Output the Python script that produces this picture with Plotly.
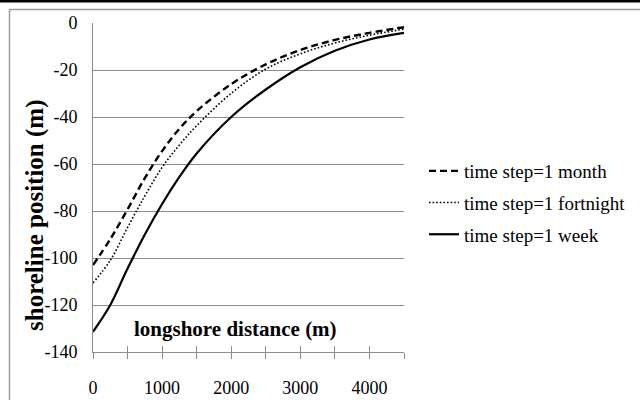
import plotly.graph_objects as go

# ---- data ----
DIST = [0, 250, 500, 750, 1000, 1250, 1500, 2000, 2500, 3000, 3500, 4000, 4500]
MONTH = [-103, -92, -79.3, -66, -54.5, -45, -37.5, -26, -17.6, -11.5, -7.2, -4.2, -1.8]
FORTNIGHT = [-110.6, -101, -87, -73.6, -61.4, -51.9, -43.7, -29.9, -19.6, -13.1, -8.5, -5.2, -2.6]
WEEK = [-131.4, -120, -104.5, -90, -77, -65.5, -55.5, -40, -28.3, -18.8, -11.8, -7.0, -4.2]
NAMES = ["time step=1 month", "time step=1 fortnight", "time step=1 week"]
X_TICKS = [0, 1000, 2000, 3000, 4000]
Y_TICKS = [0, -20, -40, -60, -80, -100, -120, -140]
X_TITLE = "longshore distance (m)"
Y_TITLE = "shoreline position (m)"

FONT = "Liberation Serif"
W, H = 640, 400
L, R, T, B = 93, 236, 23, 48
PW, PH = W - L - R, H - T - B


def px_x(p):
    return (p - L) / PW


def px_y(p):
    return (H - B - p) / PH


fig = go.Figure()
styles = [
    dict(color="black", width=2.4, dash="7px,4px"),
    dict(color="black", width=1.6, dash="1.6px,2px"),
    dict(color="black", width=2.2, dash="solid"),
]
for name, ys, st in zip(NAMES, [MONTH, FORTNIGHT, WEEK], styles):
    fig.add_trace(go.Scatter(x=DIST, y=ys, mode="lines", name=name,
                             line=dict(shape="spline", smoothing=1.0, **st),
                             legendgroup=name))

# invisible trace on overlay axis to provide inside ticks
fig.add_trace(go.Scatter(x=[DIST[0]], y=[Y_TICKS[-1]], xaxis="x2", mode="markers",
                         marker=dict(opacity=0), showlegend=False, hoverinfo="skip"))

fig.update_layout(
    width=W, height=H,
    margin=dict(l=L, r=R, t=T, b=B, autoexpand=False),
    paper_bgcolor="white", plot_bgcolor="white",
    font=dict(family=FONT, color="black"),
    xaxis=dict(range=[0, 4500], tickvals=X_TICKS, ticktext=[str(v) for v in X_TICKS],
               ticks="outside", ticklen=6, tickcolor="#8c8c8c", tickwidth=1,
               minor=dict(dtick=500, ticks="outside", ticklen=6, tickcolor="#8c8c8c"),
               showline=True, linecolor="#8c8c8c", linewidth=1, showgrid=False,
               zeroline=False, tickfont=dict(size=18, family=FONT),
               ticklabelstandoff=13, automargin=False),
    xaxis2=dict(range=[0, 4500], overlaying="x", side="bottom", anchor="y",
                tickvals=X_TICKS, ticks="inside", ticklen=6, tickcolor="#8c8c8c",
                minor=dict(dtick=500, ticks="inside", ticklen=6, tickcolor="#8c8c8c"),
                showticklabels=False, showgrid=False, zeroline=False, showline=False),
    yaxis=dict(range=[-140, 0], tickvals=Y_TICKS, ticktext=[str(v) for v in Y_TICKS],
               ticks="", showgrid=True,
               gridcolor="#8c8c8c", gridwidth=1, showline=True, linecolor="#8c8c8c",
               linewidth=1, zeroline=False, tickfont=dict(size=18, family=FONT),
               ticklabelstandoff=11, automargin=False),
    legend=dict(x=px_x(424), y=px_y(152), xanchor="left", yanchor="top",
                font=dict(size=19, family=FONT), bgcolor="rgba(0,0,0,0)",
                itemwidth=30, tracegroupgap=4),
    showlegend=True,
    annotations=[
        dict(text=X_TITLE, xref="paper", yref="paper", x=px_x(235), y=px_y(329),
             xanchor="center", yanchor="middle", showarrow=False,
             font=dict(size=21, family=FONT, weight="bold")),
        dict(text=Y_TITLE, xref="paper", yref="paper", x=px_x(35), y=px_y(215),
             xanchor="center", yanchor="middle", showarrow=False, textangle=-90,
             font=dict(size=25, family=FONT, weight="bold")),
    ],
    shapes=[
        dict(type="rect", xref="paper", yref="paper", x0=px_x(0), x1=px_x(W),
             y0=px_y(0), y1=px_y(2.5), fillcolor="black", line=dict(width=0), layer="above"),
        dict(type="line", xref="paper", yref="paper", x0=px_x(9.5), x1=px_x(W),
             y0=px_y(9.5), y1=px_y(9.5), line=dict(color="#9a9a9a", width=1.5)),
        dict(type="line", xref="paper", yref="paper", x0=px_x(9.5), x1=px_x(9.5),
             y0=px_y(9.5), y1=px_y(H), line=dict(color="#9a9a9a", width=1.5)),
    ],
)

fig.write_html("out.html")
